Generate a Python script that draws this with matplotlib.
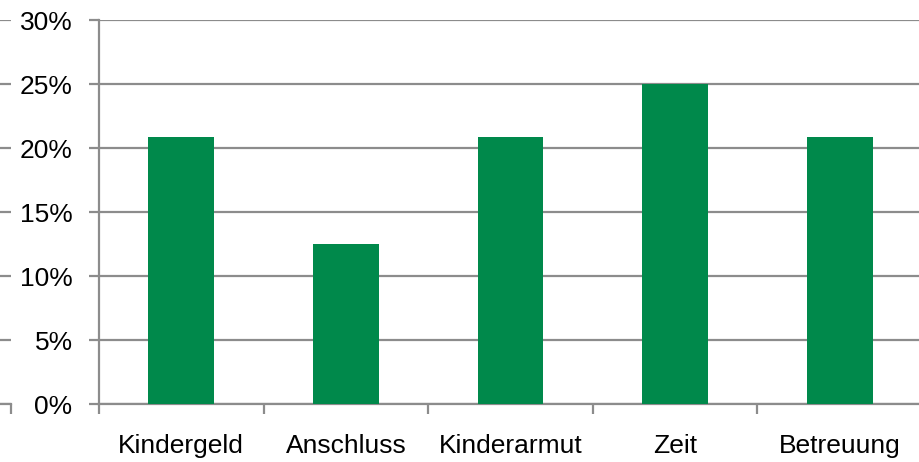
import numpy as np
import matplotlib
matplotlib.use('Agg')
import matplotlib.pyplot as plt
from matplotlib.ticker import FuncFormatter

categories = ["Kindergeld", "Anschluss", "Kinderarmut", "Zeit", "Betreuung"]
shares = [5 / 24, 3 / 24, 5 / 24, 6 / 24, 5 / 24]
y_ticks = [0, 0.05, 0.10, 0.15, 0.20, 0.25, 0.30]

plt.rcParams['font.family'] = ['Liberation Sans', 'DejaVu Sans']
grey = '#8c8c8c'
green = '#00894b'

fig = plt.figure(figsize=(9.2, 4.62), dpi=100)
ax = fig.add_axes([99 / 920, 58 / 462, 823 / 920, 384 / 462])

x = np.arange(len(categories))
ax.bar(x, shares, width=0.4, color=green, zorder=3)

ax.set_xlim(-0.5, len(categories) - 0.5)
ax.set_ylim(0, 0.30)
ax.set_yticks(y_ticks)
ax.yaxis.set_major_formatter(FuncFormatter(lambda v, p: f"{v * 100:.0f}%"))
ax.set_xticks(x)
ax.set_xticklabels(categories)
ax.set_xticks(np.arange(len(categories) + 1) - 0.5, minor=True)

ax.grid(axis='y', color=grey, linewidth=1.6, zorder=0)
for s in ['top', 'right']:
    ax.spines[s].set_visible(False)
for s in ['left', 'bottom']:
    ax.spines[s].set_color(grey)
    ax.spines[s].set_linewidth(1.6)

ax.tick_params(axis='y', which='major', length=7, width=1.6, color=grey,
               labelsize=19, pad=12, labelcolor='black')
ax.tick_params(axis='x', which='major', length=0, labelsize=19, pad=21.5)
ax.tick_params(axis='x', which='minor', length=7, width=1.6, color=grey)

# cropped neighbour chart at the left edge
ax2 = fig.add_axes([0, 58 / 462, 11 / 920, 384 / 462])
ax2.set_xlim(0, 1)
ax2.set_ylim(0, 0.30)
ax2.set_yticks(y_ticks)
ax2.set_yticklabels([])
ax2.set_xticks([1])
ax2.set_xticklabels([])
ax2.grid(axis='y', color=grey, linewidth=1.6)
ax2.tick_params(axis='y', length=0)
ax2.tick_params(axis='x', length=7, width=1.6, color=grey)
for s in ['top', 'right', 'left']:
    ax2.spines[s].set_visible(False)
ax2.spines['bottom'].set_color(grey)
ax2.spines['bottom'].set_linewidth(1.6)
ax2.patch.set_alpha(0)

fig.savefig('out.png', dpi=100)
